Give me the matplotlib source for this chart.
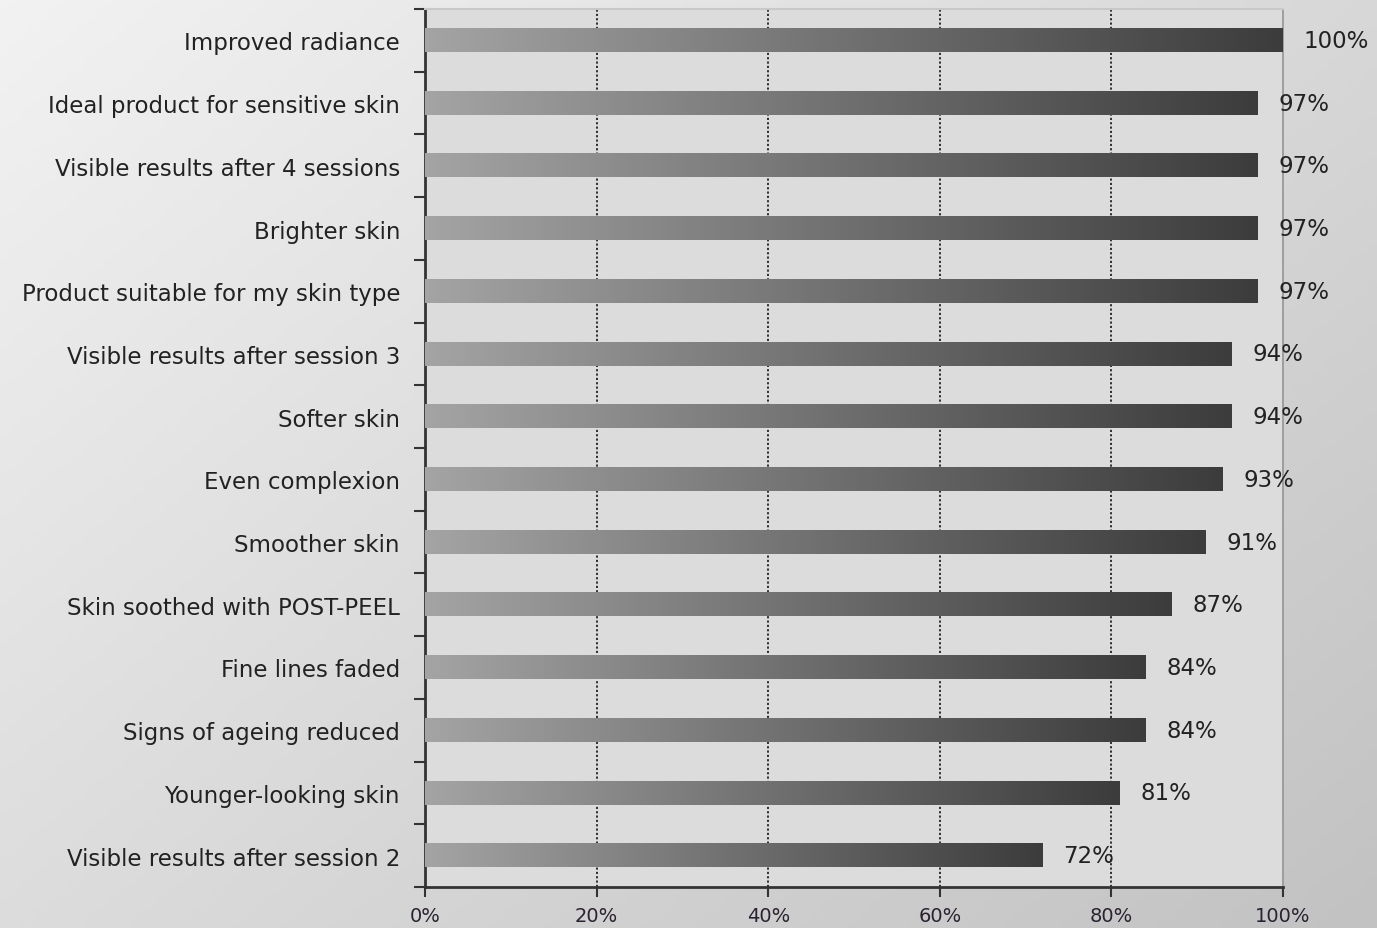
import matplotlib
matplotlib.use("Agg")
import matplotlib.pyplot as plt
from matplotlib.colors import LinearSegmentedColormap
from matplotlib.ticker import FixedLocator
import numpy as np

labels = [
    "Improved radiance",
    "Ideal product for sensitive skin",
    "Visible results after 4 sessions",
    "Brighter skin",
    "Product suitable for my skin type",
    "Visible results after session 3",
    "Softer skin",
    "Even complexion",
    "Smoother skin",
    "Skin soothed with POST-PEEL",
    "Fine lines faded",
    "Signs of ageing reduced",
    "Younger-looking skin",
    "Visible results after session 2",
]
values = [100, 97, 97, 97, 97, 94, 94, 93, 91, 87, 84, 84, 81, 72]
xticks = [0, 20, 40, 60, 80, 100]

plt.rcParams['font.family'] = ['DejaVu Sans']

fig = plt.figure(figsize=(13.77, 9.29), dpi=100)

# figure background: soft diagonal gray gradient
bg = fig.add_axes([0, 0, 1, 1], zorder=-10)
yy, xx = np.mgrid[0:1:200j, 0:1:200j]
shade = 0.55 * xx + 0.45 * yy
bg_cmap = LinearSegmentedColormap.from_list("bg", ["#f2f2f2", "#c2c2c2"])
bg.imshow(shade, cmap=bg_cmap, aspect="auto", extent=(0, 1, 1, 0))
bg.set_axis_off()

ax = fig.add_axes([425 / 1377, 41 / 929, (1283 - 425) / 1377, (888 - 10) / 929])
ax.set_facecolor("#dcdcdc")

bar_cmap = LinearSegmentedColormap.from_list("bar", ["#a4a4a4", "#3c3c3c"])
grad = np.linspace(0, 1, 256).reshape(1, -1)
h = 0.37
ypos = np.arange(len(labels))
for y, v in zip(ypos, values):
    ax.imshow(grad, cmap=bar_cmap, aspect="auto",
              extent=(0, v, y + h / 2, y - h / 2), zorder=3)
    ax.annotate(f"{v}%", xy=(v, y), xytext=(15, 0), textcoords="offset points",
                va="center", ha="left", fontsize=16.5, color="#222222")

ax.set_xlim(0, 100)
ax.set_ylim(len(labels) - 0.5, -0.5)

for x in xticks[1:-1]:
    ax.axvline(x, color="#222222", linestyle=(0, (1.2, 1.2)), linewidth=1.3, zorder=1)

ax.set_xticks(xticks)
ax.set_xticklabels([f"{x}%" for x in xticks], fontsize=14, color="#2a2230")
ax.set_yticks(ypos)
ax.set_yticklabels(labels, fontsize=16.5, color="#222222")
ax.yaxis.set_minor_locator(FixedLocator(np.arange(len(labels) + 1) - 0.5))
ax.tick_params(axis="y", which="major", length=0, pad=18)
ax.tick_params(axis="y", which="minor", length=8, width=1.5, color="#333333", direction="out")
ax.tick_params(axis="x", length=7, width=1.5, color="#333333", pad=7)

for side in ["left", "bottom"]:
    ax.spines[side].set_color("#333333")
    ax.spines[side].set_linewidth(2)
ax.spines["top"].set_color("#c8c8c8")
ax.spines["top"].set_linewidth(1.5)
ax.spines["right"].set_color("#999999")
ax.spines["right"].set_linestyle((0, (1, 1)))
ax.spines["right"].set_linewidth(1.3)

fig.savefig("out.png", dpi=100)
